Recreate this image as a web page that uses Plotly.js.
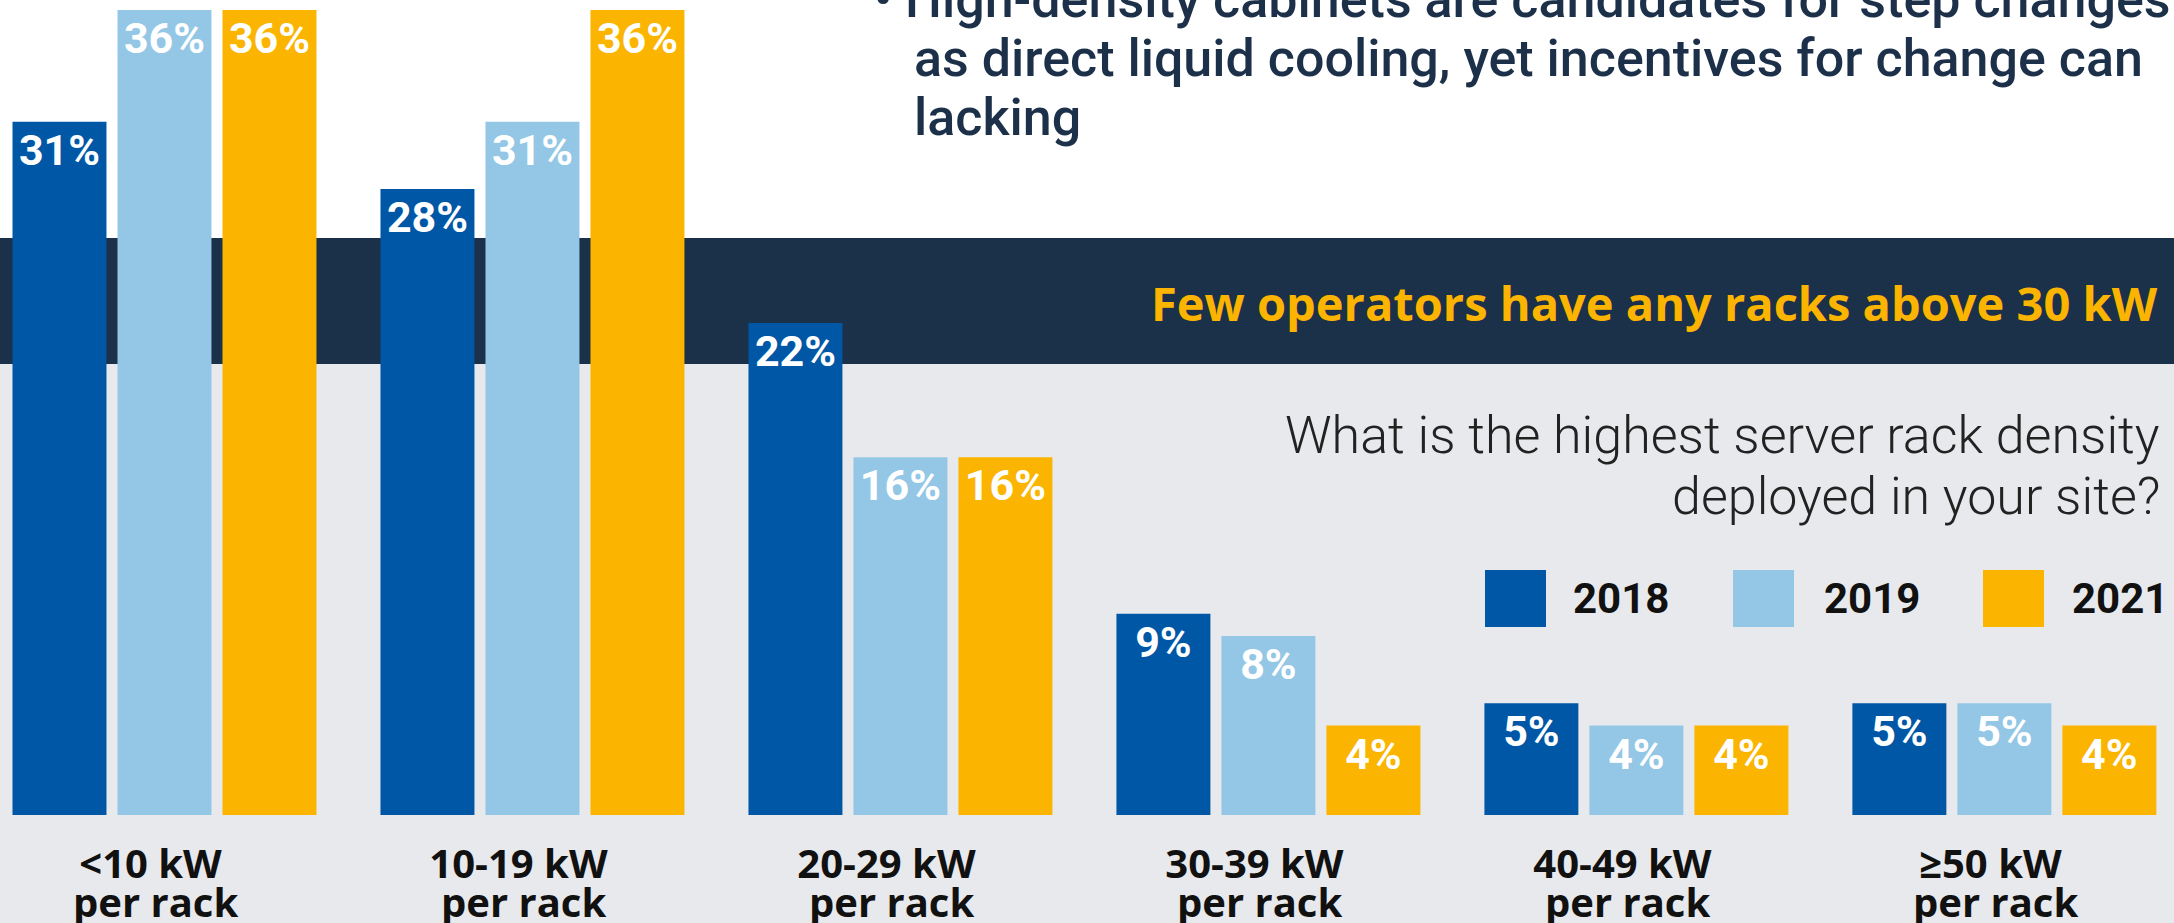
<!DOCTYPE html>
<html>
<head>
<meta charset="utf-8">
<script src="https://cdn.plot.ly/plotly-3.0.1.min.js"></script>
<style>
  html, body { margin: 0; padding: 0; background: #e8e9ec; }
  #chart { width: 2174px; height: 923px; }
</style>
</head>
<body>
<div id="chart"></div>
<script>
// ---- data ----
const categories = ['<10 kW', '10-19 kW', '20-29 kW', '30-39 kW', '40-49 kW', '\u226550 kW'];
const categorySub = ['per rack', 'per rack', 'per rack', 'per rack', 'per rack', 'per rack'];
const years = ['2018', '2019', '2021'];
const values2018 = [31, 28, 22, 9, 5, 5];
const values2019 = [36, 31, 16, 8, 4, 5];
const values2021 = [36, 36, 16, 4, 4, 4];
const seriesColors = ['#0057a6', '#93c7e5', '#fbb500'];
const bulletLines = [
  '\u2022 High-density cabinets are candidates for step changes such',
  'as direct liquid cooling, yet incentives for change can',
  'lacking'
];
const bandTitle = 'Few operators have any racks above 30 kW';
const questionLines = ['What is the highest server rack density', 'deployed in your site?'];

// ---- layout helpers ----
const W = 2174, H = 923, MB = 108, PH = H - MB;
const px = x => x / W;          // horizontal pixel -> paper
const py = y => 1 - y / PH;     // vertical pixel -> paper
const FONT = 'Roboto, "Noto Sans", "DejaVu Sans", sans-serif';
const WIDE = '"Open Sans", "Noto Sans", Roboto, sans-serif';

const allValues = [values2018, values2019, values2021];
const traces = allValues.map((vals, i) => ({
  type: 'bar',
  name: years[i],
  x: categories,
  y: vals,
  text: vals.map(v => v + '%'),
  textposition: 'inside',
  insidetextanchor: 'end',
  textangle: 0,
  textfont: { family: FONT, size: 43, color: '#ffffff', weight: 700 },
  marker: { color: seriesColors[i], line: { width: 0 } },
  hoverinfo: 'none',
  showlegend: false
}));

const shapes = [
  { type: 'rect', xref: 'paper', yref: 'paper', x0: 0, x1: 1, y0: py(238), y1: py(-5),
    fillcolor: '#ffffff', line: { width: 0 }, layer: 'below' },
  { type: 'rect', xref: 'paper', yref: 'paper', x0: 0, x1: 1, y0: py(364), y1: py(238),
    fillcolor: '#1b3049', line: { width: 0 }, layer: 'below' }
];

// custom legend squares
const legendSquareX = [1485, 1733, 1983];
const legendTextX = [1571, 1822, 2070];
years.forEach((yr, i) => {
  shapes.push({ type: 'rect', xref: 'paper', yref: 'paper',
    x0: px(legendSquareX[i]), x1: px(legendSquareX[i] + 61), y0: py(627), y1: py(570),
    fillcolor: seriesColors[i], line: { width: 0 }, layer: 'above' });
});

const annotations = [];
const bulletY = [-1, 58, 117];
const bulletX = [872, 912, 912];
bulletLines.forEach((t, i) => annotations.push({
  text: t, xref: 'paper', yref: 'paper', x: px(bulletX[i]), y: py(bulletY[i]),
  xanchor: 'left', yanchor: 'middle', showarrow: false,
  font: { family: FONT, size: 52, color: '#1c3049', weight: 500 }
}));
annotations.push({
  text: bandTitle, xref: 'paper', yref: 'paper', x: px(2160), y: py(303),
  xanchor: 'right', yanchor: 'middle', showarrow: false,
  font: { family: WIDE, size: 47, color: '#fbb400', weight: 700 }
});
const qY = [435, 496];
questionLines.forEach((t, i) => annotations.push({
  text: t, xref: 'paper', yref: 'paper', x: px(2162), y: py(qY[i]),
  xanchor: 'right', yanchor: 'middle', showarrow: false,
  font: { family: FONT, size: 52, color: '#222222', weight: 300 }
}));
years.forEach((yr, i) => annotations.push({
  text: yr, xref: 'paper', yref: 'paper', x: px(legendTextX[i]), y: py(598),
  xanchor: 'left', yanchor: 'middle', showarrow: false,
  font: { family: FONT, size: 42, color: '#111111', weight: 700 }
}));
categories.forEach((c, i) => annotations.push({
  text: categorySub[i], xref: 'x', yref: 'paper', x: c, y: py(901), xshift: -9,
  xanchor: 'center', yanchor: 'middle', showarrow: false,
  font: { family: WIDE, size: 40, color: '#111111', weight: 700 }
}));

const layout = {
  width: W, height: H,
  margin: { l: 0, r: 0, t: 0, b: MB, pad: 0 },
  paper_bgcolor: '#e8e9ec',
  plot_bgcolor: 'rgba(0,0,0,0)',
  barmode: 'group',
  bargap: 0.144,
  bargroupgap: 0.105,
  showlegend: false,
  xaxis: {
    type: 'category',
    range: [-0.447, 5.461],
    tickvals: categories,
    ticktext: categories,
    tickfont: { family: WIDE, size: 40, color: '#111111', weight: 700 },
    ticks: '',
    ticklabelstandoff: 22,
    ticklabelshift: -14,
    showgrid: false, zeroline: false, showline: false,
    fixedrange: true
  },
  yaxis: {
    range: [0, 36.45],
    visible: false,
    showgrid: false, zeroline: false,
    fixedrange: true
  },
  shapes: shapes,
  annotations: annotations,
  font: { family: FONT }
};

Plotly.newPlot('chart', traces, layout, { displayModeBar: false, staticPlot: true });
</script>
</body>
</html>
